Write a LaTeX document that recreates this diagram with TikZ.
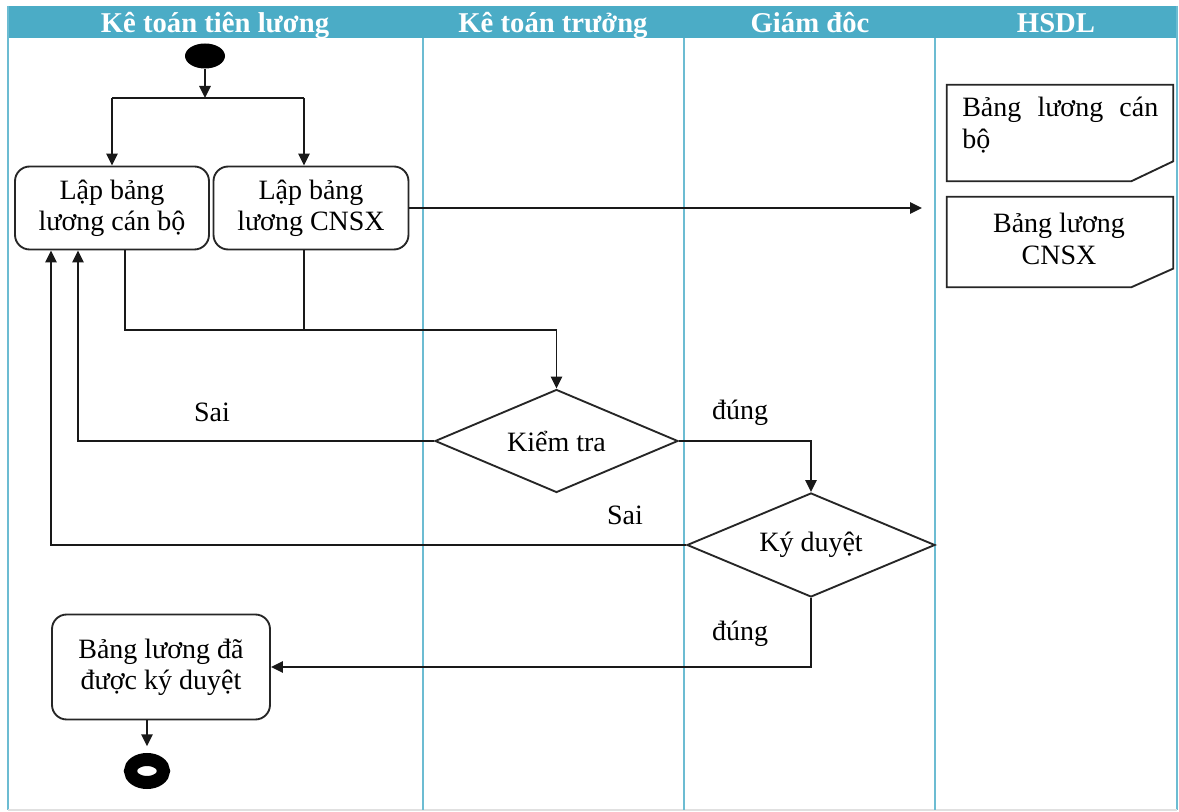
\documentclass[tikz,border=0pt]{standalone}
\usepackage{fontspec}
\setmainfont{Liberation Serif}
\usetikzlibrary{shapes.geometric,arrows.meta}
\definecolor{hdrblue}{HTML}{4BACC6}
\definecolor{laneline}{HTML}{6CBCD2}
\begin{document}
\begin{tikzpicture}[x=0.75pt,y=-0.75pt,
  every node/.style={font=\fontsize{21}{23.5}\selectfont, align=center},
  flow/.style={line width=1.4pt, draw=black!90},
  arr/.style={flow, -{Triangle[length=9pt,width=8.5pt]}},
  act/.style={draw=black!85, line width=1.4pt, rounded corners=11pt, inner sep=0pt},
  dec/.style={diamond, draw=black!85, line width=1.4pt, aspect=2.4, inner sep=0pt},
  docbox/.style={inner sep=0pt},
  docline/.style={draw=black!85, line width=1.4pt},
  hdr/.style={font=\fontsize{21.5}{23}\selectfont\bfseries, text=white, anchor=base},
  lbl/.style={inner sep=0pt},
  lane/.style={laneline, line width=1.5pt},
]
\useasboundingbox (0,0) rectangle (1179,812);
\fill[white] (0,0) rectangle (1179,812);

% swimlane frame and header band
\fill[hdrblue] (8,6) rectangle (1177,38);
\draw[lane] (8,6) -- (8,810);
\draw[lane] (1177,6) -- (1177,810);
\draw[black!12, line width=0.8pt] (8,810) -- (1177,810);
\draw[lane] (423,38) -- (423,810);
\draw[lane] (684,38) -- (684,810);
\draw[lane] (935,38) -- (935,810);

\node[hdr] (h1) at (215,33) {Kê toán tiên lương};
\node[hdr] (h2) at (553,33) {Kê toán trưởng};
\node[hdr] (h3) at (810,33) {Giám đôc};
\node[hdr] (h4) at (1056,33) {HSDL};

% start / end
\node[ellipse, fill=black, minimum width=30pt, minimum height=18.75pt, inner sep=0pt] (start) at (205,56) {};
\node[ellipse, draw=black, fill=white, line width=9.75pt, minimum width=24.75pt, minimum height=17.25pt, inner sep=0pt] (end) at (147,771) {};

% activities
\node[act, minimum width=145.5pt, minimum height=62.25pt] (box1) at (112,208) {Lập bảng\\lương cán bộ};
\node[act, minimum width=146.25pt, minimum height=62.25pt] (box2) at (311,208) {Lập bảng\\lương CNSX};
\node[act, minimum width=163.5pt, minimum height=78.75pt] (box3) at (161,667) {Bảng lương đã\\được ký duyệt};

% decisions
\node[dec, minimum width=182.25pt, minimum height=77.25pt] (d1) at (556.5,441) {Kiểm tra};
\node[dec, minimum width=186pt, minimum height=78pt] (d2) at (811,545) {Ký duyệt};

% documents
\node[docbox, minimum width=169.5pt, minimum height=72pt] (doc1) at (1060,133) {};
\node[docbox, minimum width=169.5pt, minimum height=67.5pt] (doc2) at (1060,242) {};
\draw[docline] (doc1.north west) -- (doc1.north east) -- ([yshift=15pt]doc1.south east)
  -- ([xshift=-31.5pt]doc1.south east) -- (doc1.south west) -- cycle;
\draw[docline] (doc2.north west) -- (doc2.north east) -- ([yshift=14pt]doc2.south east)
  -- ([xshift=-31.5pt]doc2.south east) -- (doc2.south west) -- cycle;
\node[anchor=north west, text width=147pt, align=left, inner sep=0pt] (doc1t) at (962,97)
  {\makebox[147pt]{Bảng\hfill lương\hfill cán}\\bộ};
\node[inner sep=0pt] (doc2t) at (1059,239) {Bảng lương\\CNSX};

% fork after start
\coordinate (f1) at (112,98);
\coordinate (f2) at (304,98);
\draw[arr] (start.south) -- (start.south |- f1);
\draw[flow] (f1) -- (f2);
\draw[arr] (f1) -- (f1 |- box1.north);
\draw[arr] (f2) -- (f2 |- box2.north);

% join into checking
\coordinate (o1) at (125,330);
\coordinate (o2) at (304,330);
\coordinate (j) at (556.5,330);
\draw[flow] (o1 |- box1.south) -- (o1) -- (j);
\draw[flow] (o2 |- box2.south) -- (o2);
\draw[arr] (j) -- (d1.north);

% output to HSDL
\coordinate (tip) at (922,208);
\draw[arr] (box2.east) -- (tip);

% loops back on rejection
\coordinate (back1) at (78,0);
\coordinate (back2) at (51,0);
\draw[arr] (d1.west) -| (back1 |- box1.south);
\draw[arr] (d2.west) -| (back2 |- box1.south);

% approval path
\draw[arr] (d1.east) -| (d2.north);
\draw[arr] (d2.south) |- (box3.east);
\draw[arr, shorten >=5pt] (end.north |- box3.south) -- (end.north);

% branch labels
\node[lbl] (sai1) at (212,412) {Sai};
\node[lbl] (dung1) at (740,413) {đúng};
\node[lbl] (sai2) at (625,515) {Sai};
\node[lbl] (dung2) at (740,634) {đúng};
\end{tikzpicture}
\end{document}
